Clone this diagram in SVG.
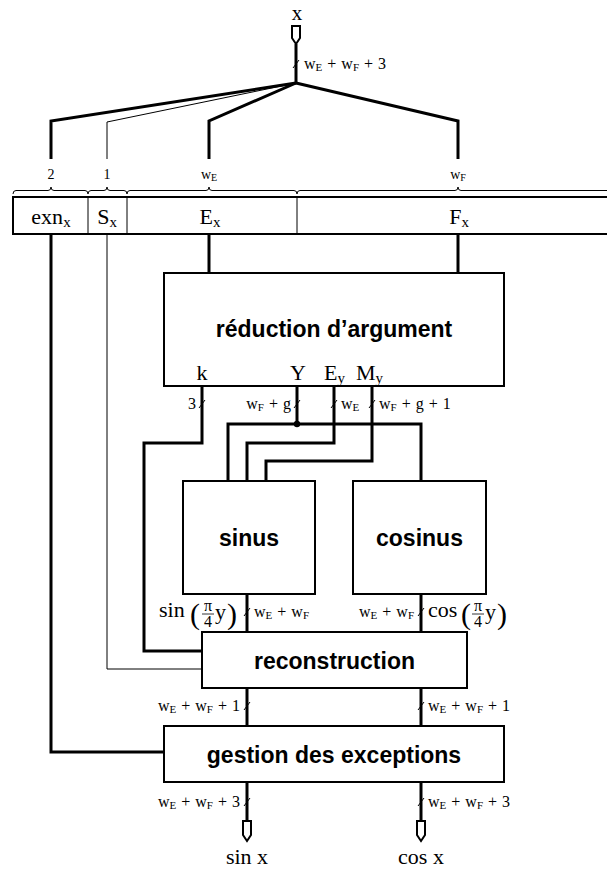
<svg xmlns="http://www.w3.org/2000/svg" width="607" height="870" viewBox="0 0 607 870">
<style>
.box{fill:#fff;stroke:#000;stroke-width:2}
.pin{fill:#fff;stroke:#000;stroke-width:2;stroke-linejoin:miter}
.thick{fill:none;stroke:#000;stroke-width:3;stroke-linejoin:miter}
.thin{fill:none;stroke:#000;stroke-width:1}
.tick{stroke:#000;stroke-width:1}
.brace{fill:none;stroke:#000;stroke-width:1}
.lbl{font-family:"Liberation Sans",Arial,sans-serif;font-weight:bold;font-size:23px;text-anchor:middle}
.m{font-family:"Liberation Serif","Times New Roman",serif;font-size:22px}
.s{font-family:"Liberation Serif","Times New Roman",serif;font-size:16px}
.b{font-family:"Liberation Serif","Times New Roman",serif;font-size:14px;text-anchor:middle}
.sub{font-size:11px}
.msub{font-size:15px}
.bsub{font-size:10px}
.c{text-anchor:middle}
.e{text-anchor:end}
</style>

<g id="connectors">
  <path class="thick" d="M296,44 V83"/>
  <path class="thick" d="M296,83 L51,121 V159"/>
  <path class="thin" d="M296,83 L107,122 V159"/>
  <path class="thick" d="M296,83 L209,121 V159"/>
  <path class="thick" d="M296,83 L458,121 V159"/>
  <path class="thick" d="M51,234 V752 H164"/>
  <path class="thin" d="M107,234 V669 H202"/>
  <path class="thick" d="M209,234 V273"/>
  <path class="thick" d="M458,234 V273"/>
  <path class="thick" d="M202,386 V443 H144 V651 H202"/>
  <path class="thick" d="M297,386 V424"/>
  <path class="thick" d="M228,481 V424 H421 V481"/>
  <circle cx="297" cy="424" r="3.2" fill="#000"/>
  <path class="thick" d="M334,386 V443 H247 V481"/>
  <path class="thick" d="M372,386 V461 H266 V481"/>
  <path class="thick" d="M247,594 V632"/>
  <path class="thick" d="M421,594 V632"/>
  <path class="thick" d="M247,688 V726"/>
  <path class="thick" d="M421,688 V726"/>
  <path class="thick" d="M247,782 V821"/>
  <path class="thick" d="M421,782 V821"/>

  <path class="tick" d="M293,68 L299,60"/>
  <path class="tick" d="M199,408 L205,400"/>
  <path class="tick" d="M294,408 L300,400"/>
  <path class="tick" d="M331,408 L337,400"/>
  <path class="tick" d="M369,408 L375,400"/>
  <path class="tick" d="M244,616 L250,608"/>
  <path class="tick" d="M418,616 L424,608"/>
  <path class="tick" d="M244,710 L250,702"/>
  <path class="tick" d="M418,710 L424,702"/>
  <path class="tick" d="M244,806 L250,798"/>
  <path class="tick" d="M418,806 L424,798"/>

  <text class="s" x="304" y="69">w<tspan class="sub" dy="2">E</tspan><tspan dy="-2" dx="5">+</tspan><tspan dx="5">w</tspan><tspan class="sub" dy="2">F</tspan><tspan dy="-2" dx="5">+</tspan><tspan dx="5">3</tspan></text>
  <text class="s e" x="196" y="409">3</text>
  <text class="s e" x="291" y="409">w<tspan class="sub" dy="2">F</tspan><tspan dy="-2" dx="5">+</tspan><tspan dx="5">g</tspan></text>
  <text class="s" x="341" y="409">w<tspan class="sub" dy="2">E</tspan></text>
  <text class="s" x="379" y="409">w<tspan class="sub" dy="2">F</tspan><tspan dy="-2" dx="5">+</tspan><tspan dx="5">g</tspan><tspan dx="5">+</tspan><tspan dx="5">1</tspan></text>
  <text class="s" x="254" y="617">w<tspan class="sub" dy="2">E</tspan><tspan dy="-2" dx="5">+</tspan><tspan dx="5">w</tspan><tspan class="sub" dy="2">F</tspan></text>
  <text class="s e" x="414" y="617">w<tspan class="sub" dy="2">E</tspan><tspan dy="-2" dx="5">+</tspan><tspan dx="5">w</tspan><tspan class="sub" dy="2">F</tspan></text>
  <text class="s e" x="240" y="711">w<tspan class="sub" dy="2">E</tspan><tspan dy="-2" dx="5">+</tspan><tspan dx="5">w</tspan><tspan class="sub" dy="2">F</tspan><tspan dy="-2" dx="5">+</tspan><tspan dx="5">1</tspan></text>
  <text class="s" x="428" y="711">w<tspan class="sub" dy="2">E</tspan><tspan dy="-2" dx="5">+</tspan><tspan dx="5">w</tspan><tspan class="sub" dy="2">F</tspan><tspan dy="-2" dx="5">+</tspan><tspan dx="5">1</tspan></text>
  <text class="s e" x="240" y="807">w<tspan class="sub" dy="2">E</tspan><tspan dy="-2" dx="5">+</tspan><tspan dx="5">w</tspan><tspan class="sub" dy="2">F</tspan><tspan dy="-2" dx="5">+</tspan><tspan dx="5">3</tspan></text>
  <text class="s" x="428" y="807">w<tspan class="sub" dy="2">E</tspan><tspan dy="-2" dx="5">+</tspan><tspan dx="5">w</tspan><tspan class="sub" dy="2">F</tspan><tspan dy="-2" dx="5">+</tspan><tspan dx="5">3</tspan></text>

  <g id="sin-label">
    <text class="m" x="159" y="617">sin</text>
    <text class="m" x="190" y="624" style="font-size:30px">(</text>
    <text class="s c" x="208" y="611">π</text>
    <path d="M202,614 H214" stroke="#000" stroke-width="0.8"/>
    <text class="s c" x="208" y="627">4</text>
    <text class="m" x="215" y="619">y</text>
    <text class="m" x="227" y="624" style="font-size:30px">)</text>
  </g>
  <g id="cos-label">
    <text class="m" x="428" y="617">cos</text>
    <text class="m" x="461" y="624" style="font-size:30px">(</text>
    <text class="s c" x="478" y="611">π</text>
    <path d="M472,614 H484" stroke="#000" stroke-width="0.8"/>
    <text class="s c" x="478" y="627">4</text>
    <text class="m" x="485" y="619">y</text>
    <text class="m" x="497" y="624" style="font-size:30px">)</text>
  </g>
</g>

<g id="input-x">
  <text class="m c" x="297" y="20" style="font-size:21px">x</text>
  <path class="pin" d="M292,26 H300 V38 L296,44 L292,38 Z"/>
</g>

<g id="fields">
  <path class="brace" d="M13,194 Q13,190.5 16,190.5 H48 Q51,190.5 51,187 Q51,190.5 54,190.5 H85 Q88,190.5 88,194"/>
  <path class="brace" d="M88,194 Q88,190.5 91,190.5 H104 Q107,190.5 107,187 Q107,190.5 110,190.5 H124 Q127,190.5 127,194"/>
  <path class="brace" d="M127,194 Q127,190.5 130,190.5 H206 Q209,190.5 209,187 Q209,190.5 212,190.5 H294 Q297,190.5 297,194"/>
  <path class="brace" d="M297,194 Q297,190.5 300,190.5 H455 Q458,190.5 458,187 Q458,190.5 461,190.5 H616 Q619,190.5 619,194"/>
  <text class="b" x="51" y="179">2</text>
  <text class="b" x="107" y="179">1</text>
  <text class="b" x="209" y="179">w<tspan class="bsub" dy="2">E</tspan></text>
  <text class="b" x="458" y="179">w<tspan class="bsub" dy="2">F</tspan></text>
  <rect class="box" x="13" y="197" width="640" height="37"/>
  <path class="thin" d="M88,197 V234 M127,197 V234 M297,197 V234"/>
  <text class="m c" x="51" y="224">exn<tspan class="msub" dy="3">x</tspan></text>
  <text class="m c" x="107" y="224">S<tspan class="msub" dy="3">x</tspan></text>
  <text class="m c" x="210" y="224">E<tspan class="msub" dy="3">x</tspan></text>
  <text class="m c" x="459" y="224">F<tspan class="msub" dy="3">x</tspan></text>
</g>

<g id="reduction">
  <rect class="box" x="164" y="273" width="340" height="113"/>
  <text class="lbl" x="334" y="337">réduction d’argument</text>
  <text class="m c" x="202" y="380">k</text>
  <text class="m c" x="298" y="380">Y</text>
  <text class="m" x="324" y="380">E<tspan class="msub" dy="3">y</tspan></text>
  <text class="m" x="356" y="380">M<tspan class="msub" dy="3">y</tspan></text>
</g>

<g id="sinus">
  <rect class="box" x="183" y="481" width="132" height="113"/>
  <text class="lbl" x="249" y="546">sinus</text>
</g>

<g id="cosinus">
  <rect class="box" x="353" y="481" width="133" height="113"/>
  <text class="lbl" x="419.5" y="546">cosinus</text>
</g>

<g id="reconstruction">
  <rect class="box" x="202" y="632" width="265" height="56"/>
  <text class="lbl" x="334.5" y="669">reconstruction</text>
</g>

<g id="gestion">
  <rect class="box" x="164" y="726" width="340" height="56"/>
  <text class="lbl" x="334" y="763">gestion des exceptions</text>
</g>

<g id="out-sin">
  <path class="pin" d="M243,821 H251 V835 L247,841 L243,835 Z"/>
  <text class="m c" x="247" y="864">sin x</text>
</g>

<g id="out-cos">
  <path class="pin" d="M417,821 H425 V835 L421,841 L417,835 Z"/>
  <text class="m c" x="421" y="864">cos x</text>
</g>
</svg>
